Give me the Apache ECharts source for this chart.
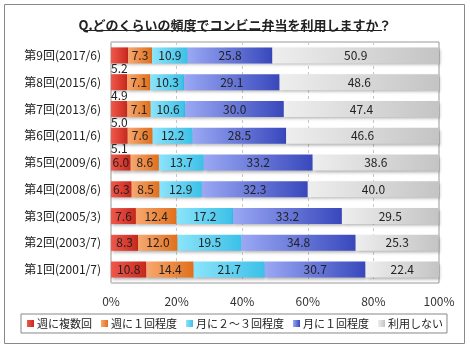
<!DOCTYPE html>
<html>
<head>
<meta charset="utf-8">
<script src="https://cdn.jsdelivr.net/npm/echarts@6/dist/echarts.min.js"></script>
<style>
  html, body { margin: 0; padding: 0; background: #fff; }
  #chart { width: 470px; height: 350px; }
</style>
</head>
<body>
<div id="chart"></div>
<script>
// 下から上へ（第1回が一番下）
const rounds = [
  "第1回(2001/7)", "第2回(2003/7)", "第3回(2005/3)", "第4回(2008/6)", "第5回(2009/6)",
  "第6回(2011/6)", "第7回(2013/6)", "第8回(2015/6)", "第9回(2017/6)"
];
const seriesNames = ["週に複数回", "週に１回程度", "月に２～３回程度", "月に１回程度", "利用しない"];
const weeklyMulti = [10.8, 8.3, 7.6, 6.3, 6.0, 5.1, 5.0, 4.9, 5.2];
const weeklyOnce = [14.4, 12.0, 12.4, 8.5, 8.6, 7.6, 7.1, 7.1, 7.3];
const monthly2to3 = [21.7, 19.5, 17.2, 12.9, 13.7, 12.2, 10.6, 10.3, 10.9];
const monthlyOnce = [30.7, 34.8, 33.2, 32.3, 33.2, 28.5, 30.0, 29.1, 25.8];
const notUsed = [22.4, 25.3, 29.5, 40.0, 38.6, 46.6, 47.4, 48.6, 50.9];
const xTicks = [0, 20, 40, 60, 80, 100];

const font = "'Noto Sans CJK JP', sans-serif";
const grad = (a, b) => new echarts.graphic.LinearGradient(0, 0, 1, 0, [
  { offset: 0, color: a }, { offset: 1, color: b }
]);
const fills = [
  grad("#f0584c", "#c8281c"),
  grad("#f8a870", "#e0701c"),
  grad("#8ce4fa", "#3cc0e8"),
  grad("#9aa8f4", "#3848bc"),
  grad("#eeeeee", "#c4c4c4")
];
const legendColors = ["#e8463c", "#f08c40", "#5cd0f0", "#6070d8", "#dcdcdc"];
const allData = [weeklyMulti, weeklyOnce, monthly2to3, monthlyOnce, notUsed];

const chart = echarts.init(document.getElementById("chart"));
chart.setOption({
  animation: false,
  textStyle: { fontFamily: font },
  color: legendColors,
  graphic: [
    { type: "rect", shape: { x: 4.5, y: 4.5, width: 460, height: 339 },
      style: { fill: "none", stroke: "#888", lineWidth: 1 }, silent: true },
    { type: "line", shape: { x1: 85, y1: 30.5, x2: 382, y2: 30.5 },
      style: { stroke: "#222", lineWidth: 1 }, silent: true }
  ],
  title: {
    text: "Q.どのくらいの頻度でコンビニ弁当を利用しますか？",
    left: "center",
    top: 14,
    textStyle: { fontFamily: font, fontSize: 13, fontWeight: "bold", color: "#222" }
  },
  legend: {
    data: seriesNames,
    left: "center",
    top: 314,
    icon: "rect",
    itemWidth: 7,
    itemHeight: 7,
    itemGap: 9,
    borderColor: "#888",
    borderWidth: 1,
    padding: [4, 4, 4, 6],
    textStyle: { fontFamily: font, fontSize: 11, color: "#222", padding: [0, 0, 0, -2] }
  },
  grid: { left: 111, right: 31, top: 42, bottom: 67, show: true, borderColor: "#999", borderWidth: 1 },
  xAxis: {
    type: "value",
    min: 0,
    max: 100,
    interval: 20,
    axisLine: { show: false },
    axisTick: { show: false },
    splitLine: { show: true, lineStyle: { color: "#c8c8c8", type: [3, 3] } },
    axisLabel: { formatter: "{value}%", color: "#333", fontSize: 12, margin: 12 }
  },
  yAxis: {
    type: "category",
    data: rounds,
    axisLine: { show: false },
    axisTick: { show: false },
    axisLabel: { color: "#222", fontSize: 12, margin: 10 }
  },
  series: allData.map((vals, i) => ({
    name: seriesNames[i],
    type: "bar",
    stack: "total",
    barWidth: 16,
    itemStyle: {
      color: fills[i],
      shadowColor: "rgba(0,0,0,0.3)",
      shadowBlur: 3,
      shadowOffsetX: 1,
      shadowOffsetY: 2
    },
    label: {
      show: true,
      color: "#222",
      fontSize: 12,
      fontFamily: font,
      formatter: p => p.value.toFixed(1)
    },
    data: vals.map(v => {
      if (i === 0 && v < 5.5) {
        return { value: v, label: { position: [0, 15] } };
      }
      return v;
    })
  }))
});
</script>
</body>
</html>
